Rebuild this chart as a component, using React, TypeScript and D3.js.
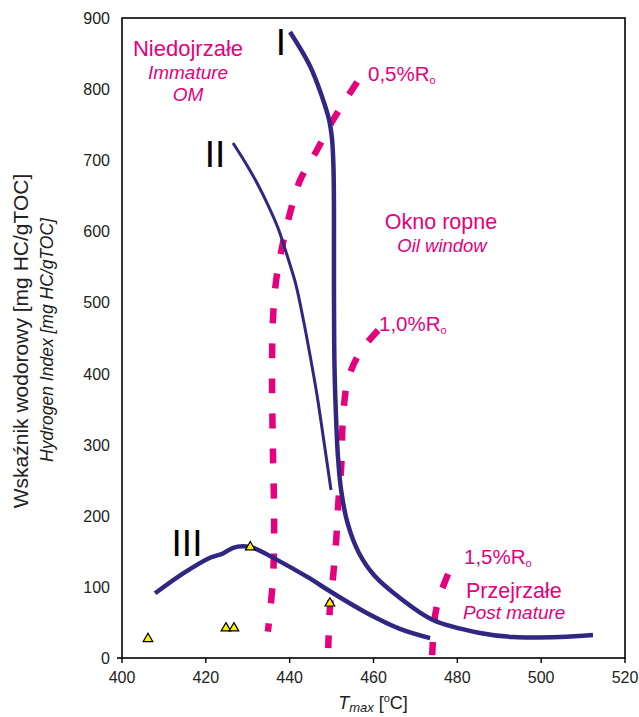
import React from "react";
import * as d3 from "d3";

const W = 639;
const H = 717;
const margin = { left: 122, right: 14, top: 18, bottom: 59 };

const xTicks = [400, 420, 440, 460, 480, 500, 520];
const yTicks = [0, 100, 200, 300, 400, 500, 600, 700, 800, 900];

const curveI: [number, number][] = [
  [440.08, 880.3], [444.85, 832.5], [447.8, 788], [449.4, 757], [450.1, 730],
  [450.45, 690], [450.57, 627.2], [450.57, 520.3], [450.69, 412.0], [451.0, 348.8],
  [451.5, 285], [452.3, 235], [453.8, 190], [456.5, 148], [460.2, 116], [466.32, 84.4],
  [474.19, 53.4], [485.41, 35.2], [493.28, 29.5], [504.49, 29.5], [512.36, 32.3],
];
const curveII: [number, number][] = [
  [426.48, 724.2], [429.34, 697.5], [432.21, 668.0], [434.83, 637.0], [437.22, 604.7],
  [439.36, 566.7], [441.51, 524.5], [443.18, 478.1], [444.85, 426.1], [446.52, 369.8],
  [447.95, 313.6], [449.86, 236.3],
];
const curveIII: [number, number][] = [
  [407.9, 91], [414.6, 119], [421, 141], [424.1, 147], [426.5, 155],
  [428.9, 157], [431.3, 155], [437, 138], [444.2, 114], [450.4, 91],
  [458.5, 63], [466.3, 41], [473.5, 28],
];
const ro05: [number, number][] = [
  [456.1, 810], [450.4, 757], [446.5, 714], [442.5, 672], [440.1, 626],
  [438.2, 578], [436.8, 532], [436.0, 475], [435.8, 391], [436.0, 293],
  [436.3, 194], [436.0, 110], [434.8, 37],
];
const ro10: [number, number][] = [
  [461.1, 461], [456.8, 430], [453.9, 391], [452.7, 335], [452.3, 269],
  [451.6, 218], [451.1, 166], [450.4, 117], [449.6, 70], [449.2, 14],
];
const ro15: [number, number][] = [
  [477.8, 118], [475.9, 89], [474.7, 60], [474.0, 4],
];
const samples: [number, number][] = [
  [406.2, 27], [424.8, 42], [426.7, 42], [430.6, 156], [449.6, 77],
];

const BLUE = "#312783";
const PINK = "#E5007E";
const FONT = "Arial, 'Liberation Sans', Helvetica, sans-serif";

export default function App() {
  const x = d3.scaleLinear().domain([400, 520]).range([margin.left, W - margin.right]);
  const y = d3.scaleLinear().domain([0, 900]).range([H - margin.bottom, margin.top]);
  const line = d3
    .line<[number, number]>()
    .x((d) => x(d[0]))
    .y((d) => y(d[1]))
    .curve(d3.curveCatmullRom.alpha(0.5));
  const tri = d3.symbol().type(d3.symbolTriangle).size(40)();

  const x0 = x(400), x1 = x(520), y0 = y(0), y1 = y(900);

  return (
    <svg width={W} height={H} style={{ position: "absolute", left: 0, top: 0 }} fontFamily={FONT}>
      <rect x={0} y={0} width={W} height={H} fill="#fff" />
      {[ro05, ro10, ro15].map((d, i) => (
        <path key={i} d={line(d) || ""} fill="none" stroke={PINK} strokeWidth={6.5} strokeDasharray="15 20" />
      ))}
      <path d={line(curveII) || ""} fill="none" stroke={BLUE} strokeWidth={3} />
      <path d={line(curveI) || ""} fill="none" stroke={BLUE} strokeWidth={4.5} />
      <path d={line(curveIII) || ""} fill="none" stroke={BLUE} strokeWidth={4.5} />
      {samples.map((d, i) => (
        <path key={i} d={tri || ""} transform={`translate(${x(d[0])},${y(d[1])})`} fill="#FFF200" stroke="#000" strokeWidth={1.2} />
      ))}
      <rect x={x0} y={y1} width={x1 - x0} height={y0 - y1} fill="none" stroke="#000" strokeWidth={1.6} />
      <line x1={x0 - 5} x2={x0} y1={y0} y2={y0} stroke="#000" strokeWidth={1.6} />
      {xTicks.map((t) => (
        <g key={t}>
          <line x1={x(t)} x2={x(t)} y1={y0} y2={y0 + 5} stroke="#000" strokeWidth={1.4} />
          <text x={x(t)} y={y0 + 25} fontSize={16} textAnchor="middle" fill="#222">{t}</text>
        </g>
      ))}
      {yTicks.map((t) => (
        <text key={t} x={x0 - 12} y={y(t) + 6} fontSize={16} textAnchor="end" fill="#222">{t}</text>
      ))}
      <text x={373} y={709} fontSize={18} textAnchor="middle" fill="#222">
        <tspan fontStyle="italic">T</tspan>
        <tspan fontStyle="italic" fontSize={13} dy={3}>max</tspan>
        <tspan dy={-3}> [</tspan>
        <tspan fontSize={11} dy={-7}>o</tspan>
        <tspan dy={7}>C]</tspan>
      </text>
      <text transform={`translate(28,341) rotate(-90)`} fontSize={21} textAnchor="middle" fill="#222">
        Wskaźnik wodorowy [mg HC/gTOC]
      </text>
      <text transform={`translate(53,340) rotate(-90)`} fontSize={17.5} fontStyle="italic" textAnchor="middle" fill="#222">
        Hydrogen Index [mg HC/gTOC]
      </text>
      <text x={281} y={55} fontSize={37} textAnchor="middle" fill="#000">I</text>
      <text x={215} y={167} fontSize={37} textAnchor="middle" fill="#000">II</text>
      <text x={187} y={556} fontSize={37} textAnchor="middle" fill="#000">III</text>
      <text x={188} y={56} fontSize={22} textAnchor="middle" fill={PINK}>Niedojrzałe</text>
      <text x={188} y={79} fontSize={19} fontStyle="italic" textAnchor="middle" fill={PINK}>Immature</text>
      <text x={188} y={101} fontSize={19} fontStyle="italic" textAnchor="middle" fill={PINK}>OM</text>
      <text x={441} y={229} fontSize={21.5} textAnchor="middle" fill={PINK}>Okno ropne</text>
      <text x={442} y={252} fontSize={18.5} fontStyle="italic" textAnchor="middle" fill={PINK}>Oil window</text>
      <text x={466} y={598} fontSize={21.5} fill={PINK}>Przejrzałe</text>
      <text x={463} y={619} fontSize={19} fontStyle="italic" fill={PINK}>Post mature</text>
      {[
        { t: "0,5%R", px: 368, py: 81 },
        { t: "1,0%R", px: 379, py: 331 },
        { t: "1,5%R", px: 464, py: 564 },
      ].map((l) => (
        <text key={l.t} x={l.px} y={l.py} fontSize={20.5} fill={PINK}>
          {l.t}
          <tspan fontSize={11} dy={3}>o</tspan>
        </text>
      ))}
    </svg>
  );
}
